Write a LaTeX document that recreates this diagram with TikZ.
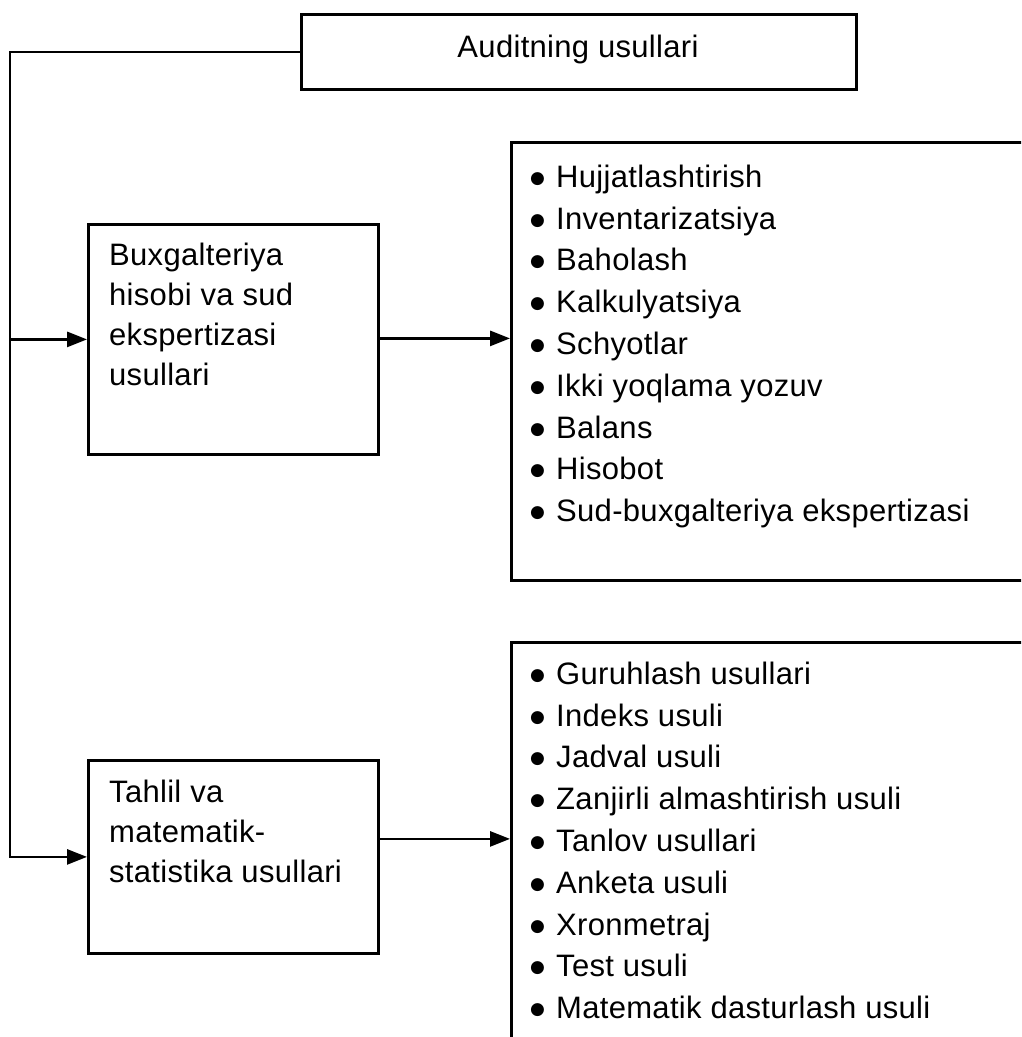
\documentclass[tikz,border=0pt]{standalone}
\usepackage{fontspec}
\setmainfont[LetterSpace=1]{Liberation Sans}
\newfontfamily\dotfont{DejaVu Sans}
\usetikzlibrary{arrows.meta}
\newcommand\firstline{\rule{0pt}{24pt}}
\newcommand\bul{\makebox[23pt][l]{\hspace*{-3pt}\raisebox{4pt}{\dotfont\fontsize{17}{17}\selectfont ●}}}
\begin{document}
\begin{tikzpicture}[x=1pt,y=-1pt,
  frame/.style={draw, line width=2.8pt, rectangle, inner sep=0pt, anchor=north west},
  link/.style={line width=2.8pt, -{Triangle[length=20pt,width=15pt]}},
  boxtext/.style={inner sep=0pt, anchor=north west, align=left,
    font=\fontsize{31}{40}\selectfont},
  listtext/.style={inner sep=0pt, anchor=north west, align=left,
    font=\fontsize{31}{41.8}\selectfont}]
\useasboundingbox (0,0) rectangle (1021,1037);
\clip (0,0) rectangle (1021,1037);

% boxes
\node[frame, minimum width=555pt, minimum height=75pt] (root) at (300,13) {};
\node[frame, minimum width=290pt, minimum height=230pt] (m1) at (87,223) {};
\node[frame, minimum width=290pt, minimum height=193pt] (m2) at (87,759) {};
\node[frame, minimum width=600pt, minimum height=438pt] (l1) at (510,141) {};
\node[frame, minimum width=600pt, minimum height=500pt] (l2) at (510,641) {};

% texts
\node[anchor=base, inner sep=0pt, font=\fontsize{31}{40}\selectfont] (roottext) at (578,57) {Auditning usullari};
\node[boxtext] (m1text) at (109,241) {\firstline Buxgalteriya\\hisobi va sud\\ekspertizasi\\usullari};
\node[boxtext] (m2text) at (109,778) {\firstline Tahlil va\\matematik-\\statistika usullari};
\node[listtext] (l1text) at (533,163) {\firstline\bul Hujjatlashtirish\\
  \bul Inventarizatsiya\\
  \bul Baholash\\
  \bul Kalkulyatsiya\\
  \bul Schyotlar\\
  \bul Ikki yoqlama yozuv\\
  \bul Balans\\
  \bul Hisobot\\
  \bul Sud-buxgalteriya ekspertizasi};
\node[listtext] (l2text) at (533,660) {\firstline\bul Guruhlash usullari\\
  \bul Indeks usuli\\
  \bul Jadval usuli\\
  \bul Zanjirli almashtirish usuli\\
  \bul Tanlov usullari\\
  \bul Anketa usuli\\
  \bul Xronmetraj\\
  \bul Test usuli\\
  \bul Matematik dasturlash usuli};

% connectors
\coordinate (spine) at (10,0);
\draw[link] (root.west) -| (spine |- m2.west) -- (m2.west);
\draw[link] (spine |- m1.west) -- (m1.west);
\draw[link] ([yshift=1pt]m1.east) coordinate (m1out) -- (m1out -| l1.west);
\draw[link] ([yshift=18pt]m2.east) coordinate (m2out) -- (m2out -| l2.west);
\end{tikzpicture}
\end{document}
